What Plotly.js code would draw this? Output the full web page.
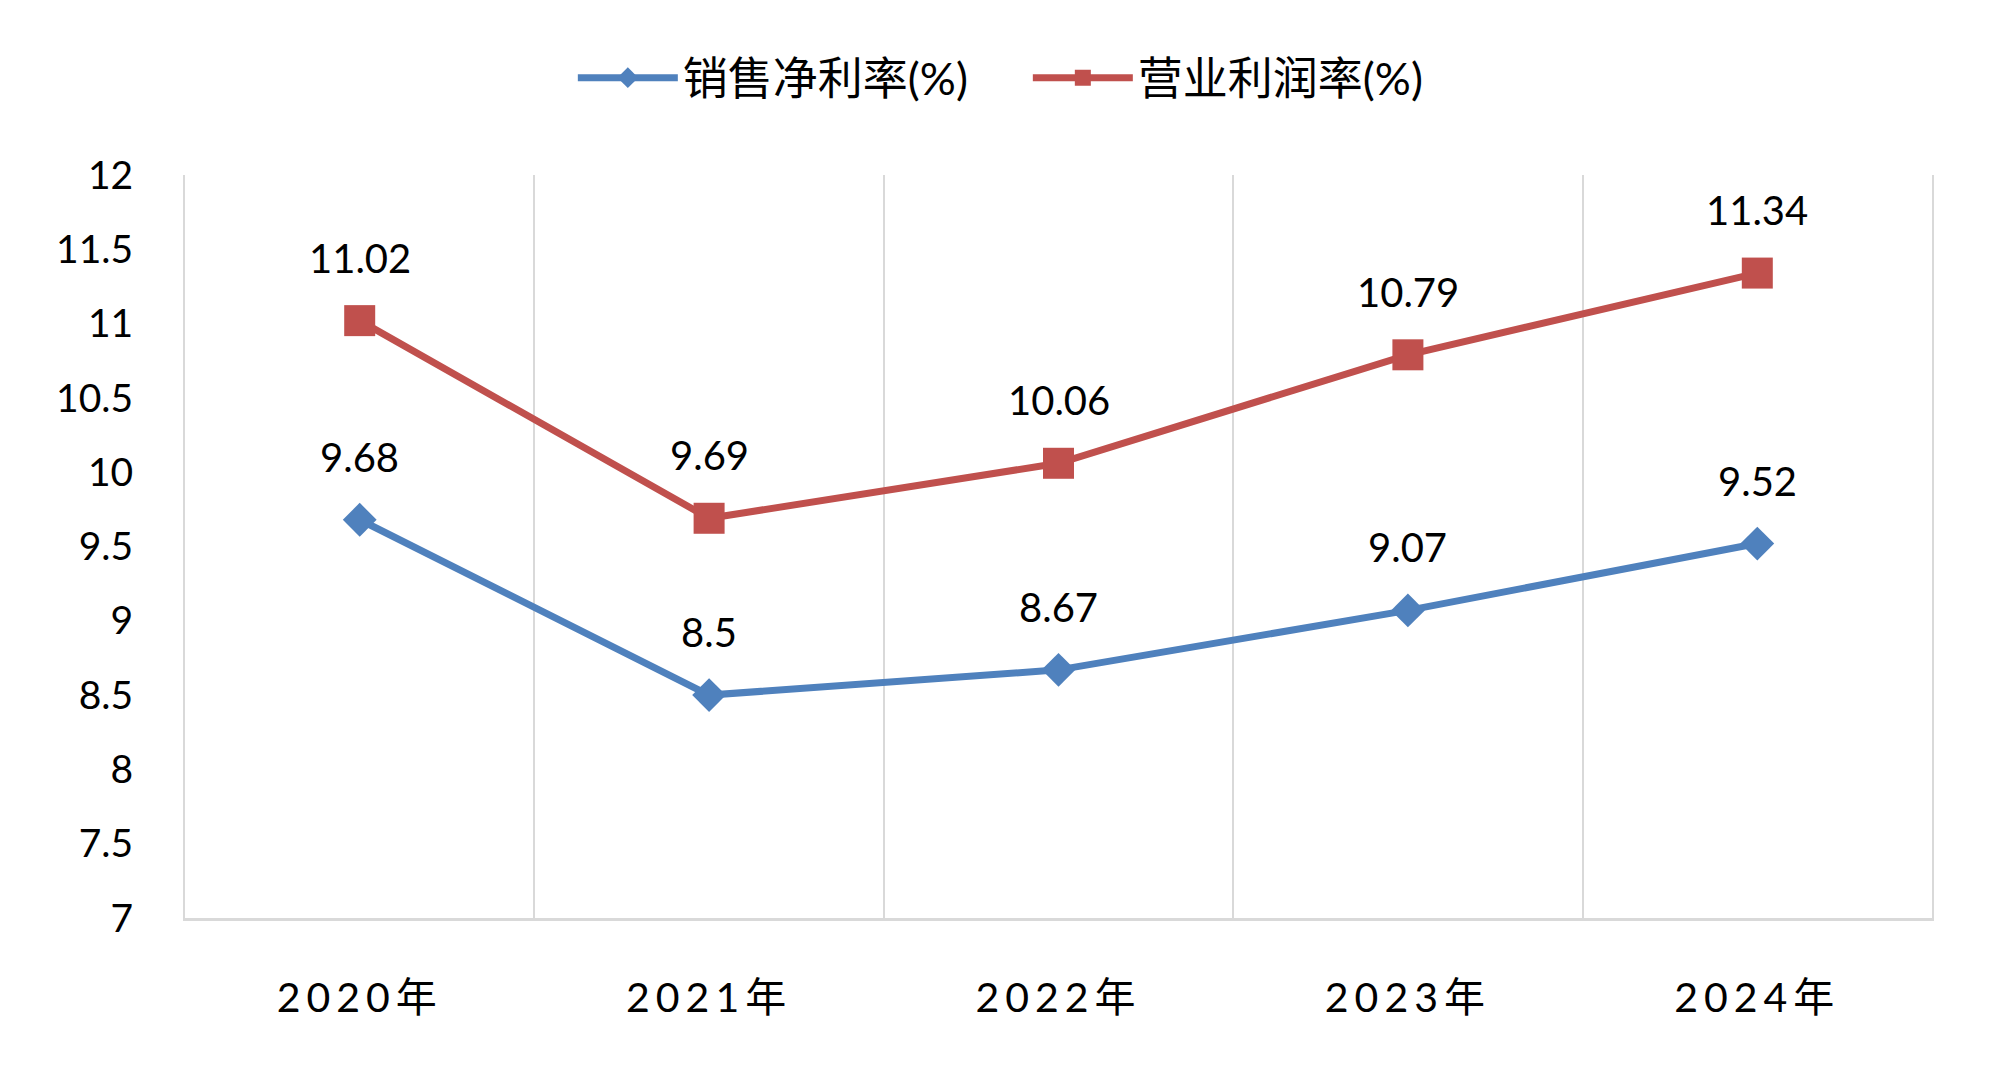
<!DOCTYPE html>
<html>
<head>
<meta charset="utf-8">
<script src="https://cdn.plot.ly/plotly-3.0.1.min.js"></script>
<style>
html,body{margin:0;padding:0;background:#fff;}
#chart{width:2000px;height:1089px;}
.xtick text{letter-spacing:6px;}
</style>
</head>
<body>
<div id="chart"></div>
<script>
const years = ["2020年", "2021年", "2022年", "2023年", "2024年"];
const netMargin = [9.68, 8.5, 8.67, 9.07, 9.52];
const opMargin = [11.02, 9.69, 10.06, 10.79, 11.34];
const seriesNames = ["销售净利率(%)", "营业利润率(%)"];
const yTicks = [7, 7.5, 8, 8.5, 9, 9.5, 10, 10.5, 11, 11.5, 12];

const blue = "#4F81BD";
const red = "#C0504D";

const traces = [
  {
    x: years, y: netMargin, name: seriesNames[0], type: "scatter", mode: "lines+markers",
    line: {color: blue, width: 7},
    marker: {symbol: "diamond", size: 26, color: blue},
    hoverinfo: "skip"
  },
  {
    x: years, y: opMargin, name: seriesNames[1], type: "scatter", mode: "lines+markers",
    line: {color: red, width: 7},
    marker: {symbol: "square", size: 31, color: red},
    hoverinfo: "skip"
  }
];

const annotations = [];
[netMargin, opMargin].forEach(arr => {
  arr.forEach((v, i) => {
    annotations.push({
      x: years[i], y: v, xref: "x", yref: "y",
      text: String(v), showarrow: false, yshift: 63,
      yanchor: "middle", xanchor: "center",
      font: {family: "Lato, 'Noto Sans CJK SC', sans-serif", size: 40, color: "#000"}
    });
  });
});

const layout = {
  width: 2000, height: 1089,
  margin: {l: 185, r: 68, t: 175, b: 171},
  paper_bgcolor: "#fff", plot_bgcolor: "#fff",
  showlegend: true,
  legend: {
    orientation: "h", x: 0.222, xanchor: "left", y: 1.1306, yanchor: "middle",
    font: {family: "Lato, 'Noto Sans CJK SC', sans-serif", size: 45, color: "#000"},
    itemwidth: 100, entrywidth: 340, entrywidthmode: "pixels",
    bgcolor: "rgba(0,0,0,0)"
  },
  xaxis: {
    type: "category", range: [-0.5, 4.5],
    tickson: "boundaries", showgrid: true, gridcolor: "#d9d9d9", gridwidth: 2,
    showline: true, linecolor: "#d9d9d9", linewidth: 3,
    ticks: "", zeroline: false, ticklabelstandoff: 42,
    tickfont: {family: "Lato, 'Noto Sans CJK SC', sans-serif", size: 41, color: "#000"}
  },
  yaxis: {
    range: [7, 12], tickvals: yTicks, ticktext: yTicks.map(String),
    showgrid: false, zeroline: false, showline: true, mirror: true,
    linecolor: "#d9d9d9", linewidth: 2, ticks: "",
    ticklabelstandoff: 42,
    tickfont: {family: "Lato, sans-serif", size: 39, color: "#000"}
  },
  annotations: annotations
};

Plotly.newPlot("chart", traces, layout, {staticPlot: true, displayModeBar: false});
</script>
</body>
</html>
